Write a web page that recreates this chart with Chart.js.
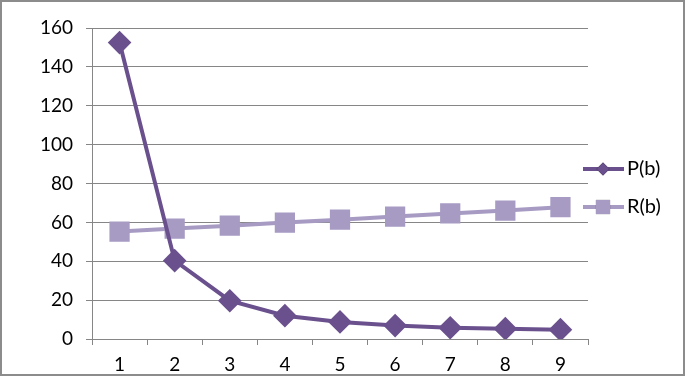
<!DOCTYPE html>
<html>
<head>
<meta charset="utf-8">
<script src="https://cdn.jsdelivr.net/npm/chart.js@4"></script>
<style>
    body { margin: 0; background: #fff; }
    #wrap { width: 685px; height: 376px; box-sizing: border-box; border: 2px solid #8c8c8c; }
</style>
</head>
<body>
<div id="wrap"><canvas id="chart" width="681" height="372"></canvas></div>
<script>
const categories = ["1", "2", "3", "4", "5", "6", "7", "8", "9"];
const pValues = [152.5, 40.3, 19.7, 12, 8.8, 6.9, 5.8, 5.3, 4.8];
const rValues = [55.3, 56.8, 58.3, 59.9, 61.4, 63, 64.6, 66.1, 67.8];
const seriesNames = ["P(b)", "R(b)"];

const pColor = "#6a518e";
const rColor = "#a79bc3";
const fontFamily = "Lato, 'Open Sans', sans-serif";

// Excel style legend: short line with the marker in the middle
const sideLegend = {
    id: "sideLegend",
    afterDraw(chart) {
        const ctx = chart.ctx;
        const rows = [167, 205];
        chart.data.datasets.forEach((ds, i) => {
            const y = rows[i];
            ctx.save();
            ctx.strokeStyle = ds.borderColor;
            ctx.lineWidth = 4;
            ctx.beginPath();
            ctx.moveTo(581, y);
            ctx.lineTo(622, y);
            ctx.stroke();
            Chart.helpers.drawPoint(ctx, {
                pointStyle: ds.pointStyle,
                radius: ds.pointStyle === "rect" ? 10 : 6.5,
                borderWidth: 0
            }, 601, y);
            ctx.fillStyle = ds.pointBackgroundColor;
            ctx.fill();
            ctx.fillStyle = "#000";
            ctx.font = "20px " + fontFamily;
            ctx.textBaseline = "middle";
            ctx.fillText(ds.label, 625, y);
            ctx.restore();
        });
    }
};

new Chart(document.getElementById("chart"), {
    type: "line",
    data: {
        labels: categories,
        datasets: [{
            label: seriesNames[0],
            data: pValues,
            borderColor: pColor,
            backgroundColor: pColor,
            pointBackgroundColor: pColor,
            pointBorderColor: pColor,
            borderWidth: 4,
            pointStyle: "rectRot",
            pointRadius: 9,
            tension: 0
        }, {
            label: seriesNames[1],
            data: rValues,
            borderColor: rColor,
            backgroundColor: rColor,
            pointBackgroundColor: rColor,
            pointBorderColor: rColor,
            borderWidth: 4,
            pointStyle: "rect",
            pointRadius: 11.5,
            tension: 0
        }]
    },
    options: {
        responsive: false,
        animation: false,
        layout: { padding: { left: 0, right: 95, top: 26, bottom: 0 } },
        plugins: {
            legend: { display: false },
            tooltip: { enabled: false }
        },
        scales: {
            x: {
                offset: true,
                grid: {
                    offset: true,
                    drawOnChartArea: false,
                    drawTicks: true,
                    tickLength: 6,
                    color: "#868686"
                },
                border: { color: "#868686", width: 1 },
                ticks: {
                    color: "#000",
                    padding: 8,
                    maxRotation: 0,
                    font: { family: fontFamily, size: 19 }
                },
                afterFit(s) { s.height = 35; }
            },
            y: {
                min: 0,
                max: 160,
                ticks: {
                    stepSize: 20,
                    color: "#000",
                    padding: 13,
                    font: { family: fontFamily, size: 19 }
                },
                grid: { color: "#868686", tickLength: 6 },
                border: { color: "#868686", width: 1 },
                afterFit(s) { s.width = 90; }
            }
        }
    },
    plugins: [sideLegend]
});
</script>
</body>
</html>
